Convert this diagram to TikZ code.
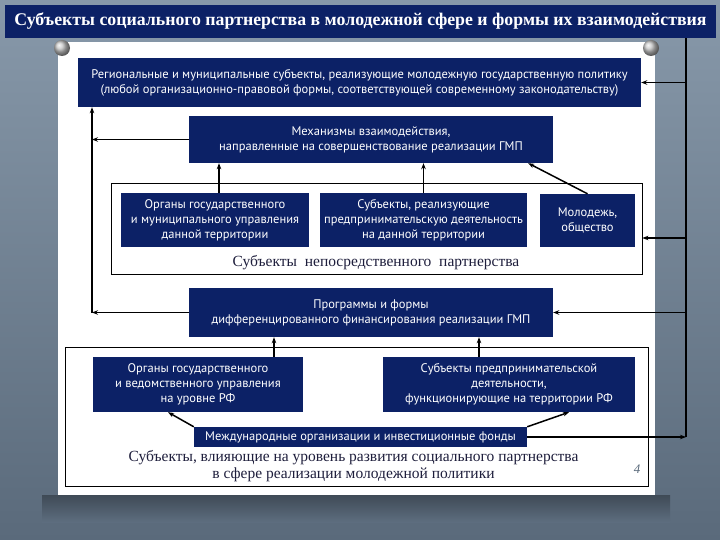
\documentclass[tikz,border=0pt]{standalone}
\usepackage{fontspec}
\setmainfont{Liberation Serif}
\newfontfamily\boxfont{PT Sans}
\usetikzlibrary{arrows.meta,positioning}
\definecolor{navy}{HTML}{0C2166}
\definecolor{slate}{HTML}{7A8DA0}
\definecolor{slatedark}{HTML}{5A6A7B}
\definecolor{ink}{HTML}{1E1E3C}

\begin{document}
\begin{tikzpicture}[x=1pt,y=-1pt,
  navybox/.style={fill=navy,text=white,align=center,inner sep=0pt,
    font=\boxfont\fontsize{12.5}{15}\selectfont},
  frame/.style={draw=black,line width=0.8pt,fill=white,inner sep=0pt},
  caption/.style={text=ink,align=center,font=\fontsize{15.5}{17}\selectfont},
  arr/.style={-{Stealth[length=6pt,width=4.5pt]},line width=1.5pt},
  link/.style={line width=1.5pt}]
  % background and page
  \shade[top color=slate!90!white,bottom color=slatedark] (0,0) rectangle (720,540);
  \useasboundingbox (0,0) rectangle (720,540);
  \shade[top color=black!30!slatedark,bottom color=slatedark!90!slate] (42,495) rectangle (670,522);
  \fill[white] (58,42) rectangle (655,495);
  \shade[ball color=gray!45] (62,48) circle (8);
  \shade[ball color=gray!45] (651,48) circle (8);

  \node[navybox,minimum width=711,minimum height=33,
    font=\bfseries\fontsize{17.8}{20}\selectfont] (title) at (360.5,21.5)
    {Субъекты  социального партнерства в молодежной сфере и формы их взаимодействия};

  % upper part
  \node[navybox,minimum width=563,minimum height=49] (regional) at (359.5,82.5)
    {Региональные и муниципальные субъекты, реализующие молодежную государственную политику\\
     (любой организационно-правовой формы, соответствующей современному законодательству)};
  \node[navybox,minimum width=364,minimum height=47] (mech) at (371,139.5)
    {Механизмы взаимодействия,\\направленные на совершенствование  реализации ГМП};
  \node[frame,minimum width=531,minimum height=91] (direct) at (376.5,228.5) {};
  \node[navybox,minimum width=188,minimum height=54] (orgA) at (215,220)
    {Органы государственного\\и муниципального управления\\данной территории};
  \node[navybox,minimum width=207,minimum height=54] (bizB) at (423.5,220)
    {Субъекты, реализующие\\предпринимательскую деятельность\\на данной территории};
  \node[navybox,minimum width=95,minimum height=53] (youth) at (587.5,220.5)
    {Молодежь,\\общество};
  \node[caption] (directcap) at (376,263) {Субъекты \ непосредственного \ партнерства};

  % lower part
  \node[navybox,minimum width=364,minimum height=49] (programs) at (371,312.5)
    {Программы и формы\\дифференцированного финансирования реализации ГМП};
  \node[frame,minimum width=583,minimum height=139] (influence) at (356.5,416.5) {};
  \node[navybox,minimum width=210,minimum height=55] (orgD) at (198,384.5)
    {Органы государственного\\и ведомственного управления\\на уровне РФ};
  \node[navybox,minimum width=252,minimum height=55] (bizE) at (509,384.5)
    {Субъекты предпринимательской\\деятельности,\\функционирующие на территории РФ};
  \node[navybox,minimum width=333,minimum height=20] (intl) at (360.5,437)
    {Международные организации и инвестиционные фонды};
  \node[caption] (influencecap) at (353.5,466.5)
    {Субъекты, влияющие  на уровень развития  социального партнерства\\в сфере реализации молодежной политики};
  \node[text=slatedark,font=\itshape\fontsize{13}{13}\selectfont] (pagenum) at (637,469) {4};

  % arrows into the mechanisms and programs
  \draw[arr] (219,0 |- orgA.north) -- (219,0 |- mech.south);
  \draw[arr] (bizB.north) -- (bizB.north |- mech.south);
  \draw[arr] (youth.north) -- ([xshift=-25]mech.south east);
  \draw[arr] (274,0 |- orgD.north) -- (274,0 |- programs.south);
  \draw[arr] (479,0 |- bizE.north) -- (479,0 |- programs.south);
  \draw[arr] (intl.north west) -- ([xshift=-30]orgD.south);
  \draw[arr] (intl.north east) -- ([xshift=60]bizE.south);

  % left feedback line
  \coordinate (lbot) at (92,0 |- programs.west);
  \draw[arr] (programs.west) -- (lbot);
  \draw[arr] (mech.west) -- (lbot |- mech.west);
  \draw[arr] (lbot) -- (lbot |- regional.south);

  % right feedback line
  \coordinate (rbot) at (686,0 |- intl.east);
  \draw[arr] (intl.east) -- (rbot);
  \draw[link] (rbot) -- (rbot |- title.south);
  \draw[arr] (rbot |- regional.east) -- (regional.east);
  \draw[arr] (rbot |- 0,238) -- (direct.east |- 0,238);
  \draw[arr] (rbot |- programs.east) -- (programs.east);
\end{tikzpicture}
\end{document}
